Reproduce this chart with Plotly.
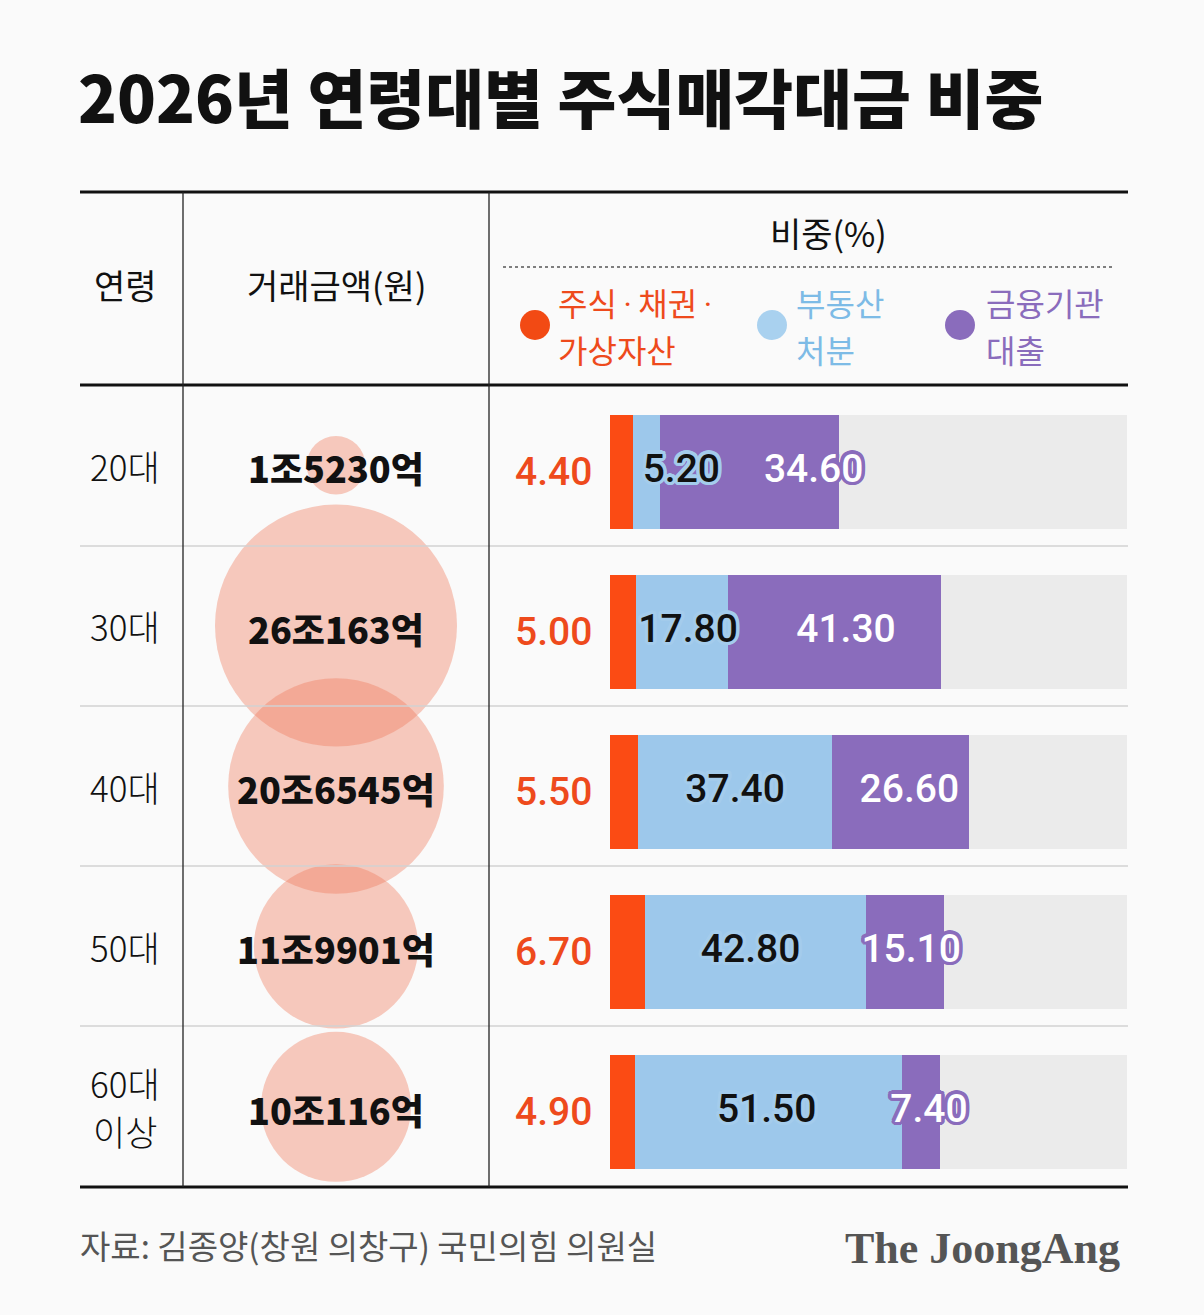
import numpy as np
import plotly.graph_objects as go

W, H = 1204, 1315

# data
ages = ["20대", "30대", "40대", "50대", "60대<br>이상"]
amount_eok = [15230, 260163, 206545, 119901, 100116]   # 거래금액, 억원
stock_share = [4.4, 5.0, 5.5, 6.7, 4.9]                 # 주식·채권·가상자산 (%)
realty_share = [5.2, 17.8, 37.4, 42.8, 51.5]            # 부동산 처분 (%)
loan_share = [34.6, 41.3, 26.6, 15.1, 7.4]              # 금융기관 대출 (%)

RED = "#fb4b14"
BLUE = "#9dc8eb"
PURPLE = "#8a6cbc"
GRAY = "#ebebeb"
BG = "#fafafa"

KR = "Noto Sans CJK KR"
NUM = "Roboto"


def px(x):
    return x / W


def py(y):
    return 1 - y / H


def outline(color, r=3.5, n=16):
    parts = []
    for k in range(n):
        a = 2 * np.pi * k / n
        parts.append(f"{r*np.cos(a):.1f}px {r*np.sin(a):.1f}px 0 {color}")
    return ", ".join(parts)


rows = list(range(len(ages)))
stock = np.array(stock_share)
realty = np.array(realty_share)
loan = np.array(loan_share)
rest = 100 - stock - realty - loan

fig = go.Figure()

# stacked share bars (gray = remainder up to 100%)
for vals, col in [(stock, RED), (realty, BLUE), (loan, PURPLE), (rest, GRAY)]:
    fig.add_trace(go.Bar(x=vals, y=rows, orientation="h", marker=dict(color=col, line=dict(width=0)),
                         xaxis="x", yaxis="y", hoverinfo="skip", showlegend=False))

# value labels
blue_nudge = [6.8, 1.2, 0.0, -0.9, -0.35]
purple_nudge = [12.5, 2.2, 1.7, 1.2, 1.6]
blue_x = stock + realty / 2 + np.array(blue_nudge)
purple_x = stock + realty + loan / 2 + np.array(purple_nudge)

fig.add_trace(go.Scatter(x=blue_x, y=rows, mode="text", text=[f"{v:.2f}" for v in realty],
                         textfont=dict(family=NUM, size=39, color="#111111", weight=500,
                                       shadow=outline("#a4ccec")),
                         cliponaxis=False, xaxis="x", yaxis="y", hoverinfo="skip", showlegend=False))
fig.add_trace(go.Scatter(x=purple_x, y=rows, mode="text", text=[f"{v:.2f}" for v in loan],
                         textfont=dict(family=NUM, size=39, color="white", weight=500,
                                       shadow=outline(PURPLE)),
                         cliponaxis=False, xaxis="x", yaxis="y", hoverinfo="skip", showlegend=False))

# amount bubbles (area ~ amount)
fig.add_trace(go.Scatter(x=[0.5] * len(rows), y=rows, mode="markers",
                         marker=dict(size=amount_eok, sizemode="area", sizeref=2 * max(amount_eok) / 242 ** 2,
                                     color="rgba(240,122,92,0.56)", line=dict(width=0)),
                         cliponaxis=False, xaxis="x2", yaxis="y2", hoverinfo="skip", showlegend=False))

shapes = []
# thick rules
for y in [192, 385, 1187]:
    shapes.append(dict(type="line", xref="paper", yref="paper", x0=px(80), x1=px(1128), y0=py(y), y1=py(y),
                       line=dict(color="#111111", width=3)))
# row separators
for y in [546, 706, 866, 1026]:
    shapes.append(dict(type="line", xref="paper", yref="paper", x0=px(80), x1=px(1128), y0=py(y), y1=py(y),
                       line=dict(color="#d2d2d2", width=1.5)))
# column dividers
for x in [183, 489]:
    shapes.append(dict(type="line", xref="paper", yref="paper", x0=px(x), x1=px(x), y0=py(192), y1=py(1187),
                       line=dict(color="#222222", width=1.3)))
# dotted line under 비중(%)
shapes.append(dict(type="line", xref="paper", yref="paper", x0=px(503), x1=px(1113), y0=py(267), y1=py(267),
                   line=dict(color="#555555", width=1.5, dash="dot")))
# legend dots
for cx, col in [(535, "#f24a14"), (772, "#a9d1ef"), (960, PURPLE)]:
    r = 15
    shapes.append(dict(type="circle", xref="paper", yref="paper", x0=px(cx - r), x1=px(cx + r),
                       y0=py(325 + r), y1=py(325 - r), fillcolor=col, line=dict(width=0)))

ann = []


def text(x, y, s, size, color="#111111", weight=400, family=KR, xanchor="center", align="center", **kw):
    ann.append(dict(x=px(x), y=py(y), xref="paper", yref="paper", text=s, showarrow=False,
                    xanchor=xanchor, yanchor="middle", align=align,
                    font=dict(family=family, size=size, color=color, weight=weight), **kw))


dot = '<span style="font-family:Roboto">\u2009·\u2009</span>'
text(76, 95, "2026년 연령대별 주식매각대금 비중", 64, weight=900, xanchor="left")
text(125, 285, "연령", 34)
text(337, 285, "거래금액(원)", 34)
text(828, 232, "비중(%)", 34)
legend = [(556, "#ee4a1c", f"주식{dot}채권{dot}", "가상자산"),
          (794, "#7dbbe6", "부동산", "처분"),
          (984, PURPLE, "금융기관", "대출")]
for x, col, l1, l2 in legend:
    text(x, 302, l1, 32, color=col, xanchor="left")
    text(x, 349, l2, 32, color=col, xanchor="left")
text(78, 1245, "자료: 김종양(창원 의창구) 국민의힘 의원실", 33, color="#555555", xanchor="left")
text(1122, 1248, "The JoongAng", 44, color="#555555", weight=700, family="Liberation Serif", xanchor="right")

# age labels, amount labels, 주식·채권·가상자산 share labels
for i, a in enumerate(ages):
    lines = a.split("<br>")
    for k, part in enumerate(lines):
        ann.append(dict(x=px(125), y=i, xref="paper", yref="y2", text=part, showarrow=False,
                        xanchor="center", yanchor="middle",
                        yshift=(len(lines) - 1) * 24 - k * 48,
                        font=dict(family=KR, size=35, color="#111111", weight=300)))
    v = amount_eok[i]
    ann.append(dict(x=0.5, y=i, xref="x2", yref="y2", text=f"{v // 10000}조{v % 10000}억", showarrow=False,
                    xanchor="center", yanchor="middle", yshift=-2,
                    font=dict(family=KR, size=36, color="#111111", weight=900)))
    ann.append(dict(x=px(553), y=i, xref="paper", yref="y", text=f"{stock_share[i]:.2f}", showarrow=False,
                    xanchor="center", yanchor="middle",
                    font=dict(family=NUM, size=39, color="#ee4a1c", weight=500)))

fig.update_layout(
    width=W, height=H, margin=dict(l=0, r=0, t=0, b=0),
    paper_bgcolor=BG, plot_bgcolor="rgba(0,0,0,0)",
    barmode="stack", bargap=0.29,
    shapes=shapes, annotations=ann,
    xaxis=dict(domain=[px(610), px(1127)], range=[0, 100], visible=False, fixedrange=True),
    yaxis=dict(domain=[py(1192), py(392)], range=[4.5, -0.5], visible=False, fixedrange=True),
    xaxis2=dict(domain=[px(183), px(489)], range=[0, 1], visible=False, fixedrange=True),
    yaxis2=dict(domain=[py(1187), py(385)], range=[4.5, -0.5], visible=False, fixedrange=True),
)

fig.write_html("out.html", config={"displayModeBar": False},
               post_script="document.body.style.margin='0';document.body.style.overflow='hidden';")
